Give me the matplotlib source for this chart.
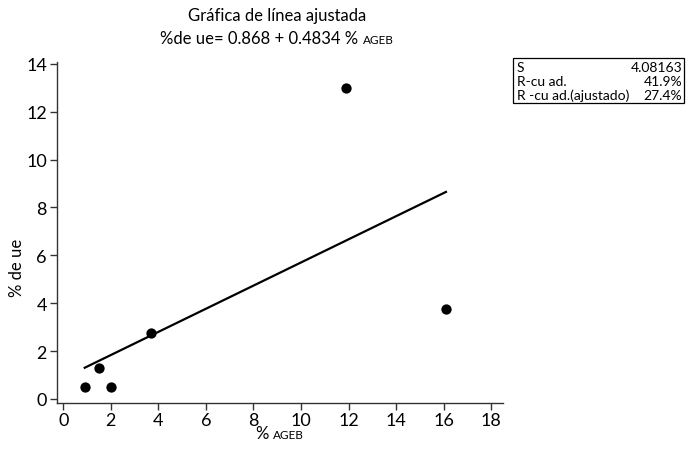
import matplotlib
matplotlib.use("Agg")
import matplotlib.pyplot as plt
import numpy as np

plt.rcParams['font.family'] = ['Lato', 'DejaVu Sans']

# Data
pct_ageb = [0.9, 1.5, 2.0, 3.7, 11.9, 16.1]
pct_ue = [0.5, 1.3, 0.5, 2.75, 13.0, 3.76]
intercept = 0.868
slope = 0.4834
x_ticks = [0, 2, 4, 6, 8, 10, 12, 14, 16, 18]
y_ticks = [0, 2, 4, 6, 8, 10, 12, 14]
stat_names = ["S", "R-cu ad.", "R -cu ad.(ajustado)"]
stat_values = ["4.08163", "41.9%", "27.4%"]

W, H = 689, 452
fig = plt.figure(figsize=(W / 100, H / 100), dpi=100)
ax = fig.add_axes([56.7 / W, 1 - 403.5 / H, (503 - 56.7) / W, (403.5 - 63) / H])

ax.scatter(pct_ageb, pct_ue, s=55, color='black', zorder=3, linewidths=0)
xf = np.array([min(pct_ageb), max(pct_ageb)])
ax.plot(xf, intercept + slope * xf, color='black', lw=1.6)

ax.set_xlim(-0.28, 18.5)
ax.set_ylim(-0.15, 14.08)
ax.set_xticks(x_ticks)
ax.set_yticks(y_ticks)
for s in ['top', 'right']:
    ax.spines[s].set_visible(False)
for s in ['left', 'bottom']:
    ax.spines[s].set_linewidth(1.0)
    ax.spines[s].set_color('#333333')
ax.tick_params(direction='out', length=5, width=1.0, color='#333333',
               labelsize=13, pad=2)

fig.canvas.draw()
renderer = fig.canvas.get_renderer()


def mixed_text(parts, cx, cy):
    """parts: list of (text, size). Draw centred at (cx, cy) in pixel coords (y from top)."""
    texts = []
    widths = []
    for t, sz in parts:
        tt = fig.text(0, 0, t, fontsize=sz, ha='left', va='baseline')
        bb = tt.get_window_extent(renderer)
        widths.append(bb.width)
        texts.append(tt)
    total = sum(widths)
    x = cx - total / 2
    for tt, w in zip(texts, widths):
        tt.set_position((x / W, 1 - cy / H))
        x += w


fig.text(277 / W, 1 - 16 / H, "Gráfica de línea ajustada", fontsize=12,
         ha='center', va='center')
mixed_text([("%de ue= 0.868 + 0.4834 % ", 12), ("AGEB", 8.5)], 277, 44)
mixed_text([("% ", 12), ("AGEB", 8.5)], 280, 439)
fig.text(17 / W, 1 - 268 / H, "% de ue", fontsize=12, rotation=90,
         ha='center', va='center')

# Stats box
bx0, by0, bx1, by1 = 513, 59, 684, 104
rect = plt.Rectangle((bx0 / W, 1 - by1 / H), (bx1 - bx0) / W, (by1 - by0) / H,
                     transform=fig.transFigure, fill=False, lw=0.9,
                     edgecolor='black')
fig.patches.append(rect)
row_y = [68, 82, 96]
for name, val, ry in zip(stat_names, stat_values, row_y):
    fig.text(517 / W, 1 - ry / H, name, fontsize=10, ha='left', va='center')
    fig.text(682 / W, 1 - ry / H, val, fontsize=10, ha='right', va='center')

fig.savefig("out.png", dpi=100)
